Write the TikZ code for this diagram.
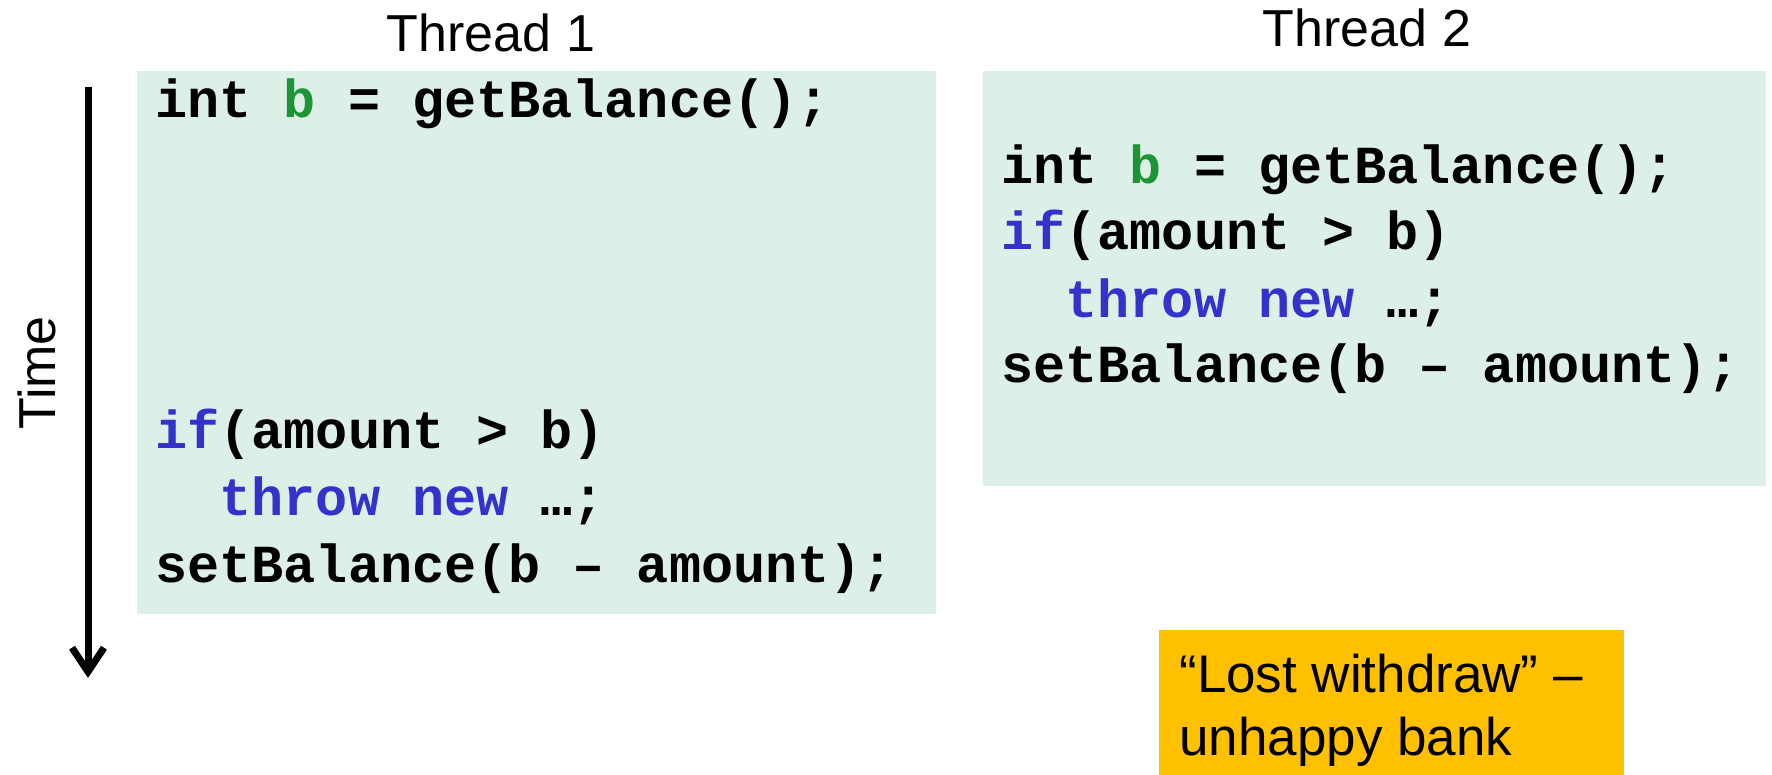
\documentclass[tikz,border=0pt]{standalone}
\usepackage{fontspec}
\setmainfont{Liberation Sans}
\newfontfamily\codefont{Liberation Mono}
\usetikzlibrary{arrows.meta}
\definecolor{boxgreen}{RGB}{221,240,232}
\definecolor{kwblue}{RGB}{51,51,204}
\definecolor{vargreen}{RGB}{28,150,52}
\definecolor{noteorange}{RGB}{255,192,0}
\tikzset{
  panel/.style={fill=boxgreen, draw=none, inner sep=0, anchor=north west},
  notebox/.style={fill=noteorange, draw=none, inner sep=0, anchor=north west},
  codeline/.style={anchor=base west, inner sep=0, font=\codefont\bfseries\fontsize{26.75}{32}\selectfont},
  heading/.style={anchor=base, inner sep=0, font=\fontsize{26}{31}\selectfont},
  notetext/.style={anchor=base west, inner sep=0, font=\fontsize{26.5}{31}\selectfont},
  timearrow/.style={line width=3.5pt, -{Straight Barb[length=12pt,width=16pt,line width=3.5pt]}},
}
\newcommand{\kw}[1]{\textcolor{kwblue}{#1}}
\newcommand{\vb}[1]{\textcolor{vargreen}{#1}}
\begin{document}
\begin{tikzpicture}[x=0.5pt,y=-0.5pt]
\useasboundingbox (0,0) rectangle (1772,775);
% panels
\node[panel, minimum width=399.5pt, minimum height=271.5pt] (box1) at (137,71) {};
\node[panel, minimum width=391.5pt, minimum height=207.5pt] (box2) at (983,71) {};
\node[notebox, minimum width=232.5pt, minimum height=73pt] (note) at (1159,630) {};
% headings
\node[heading] (h1) at (491,52) {Thread 1};
\node[heading] (h2) at (1367,47) {Thread 2};
% time arrow
\coordinate (tstart) at (88,87);
\coordinate (tend) at (88,678);
\draw[timearrow] (tstart) -- (tend);
\node[inner sep=0, rotate=90, font=\fontsize{26}{31}\selectfont] (time) at (37,373) {Time};
% thread 1 code
\node[codeline] (a1) at (155,118) {int \vb{b} = getBalance();};
\node[codeline] (a2) at (155,448) {\kw{if}(amount > b)};
\node[codeline] (a3) at (155,515) {\ \ \kw{throw new} …;};
\node[codeline] (a4) at (155,582) {setBalance(b – amount);};
% thread 2 code
\node[codeline] (b1) at (1001,184) {int \vb{b} = getBalance();};
\node[codeline] (b2) at (1001,250) {\kw{if}(amount > b)};
\node[codeline] (b3) at (1001,317) {\ \ \kw{throw new} …;};
\node[codeline] (b4) at (1001,382) {setBalance(b – amount);};
% note
\node[notetext] (n1) at (1179,692) {“Lost withdraw” –};
\node[notetext] (n2) at (1179,755) {unhappy bank};
\end{tikzpicture}
\end{document}
